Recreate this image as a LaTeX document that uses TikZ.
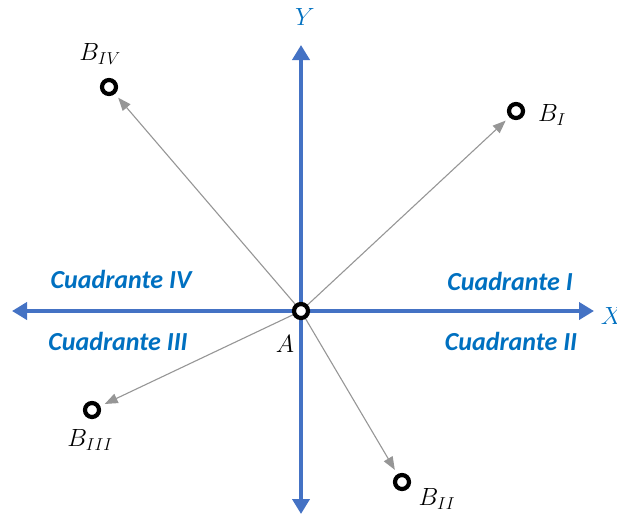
\documentclass[tikz,border=0pt]{standalone}
\usepackage{fontspec}
\newfontfamily\calibri{Carlito}
\usetikzlibrary{arrows.meta}
\definecolor{axisblue}{HTML}{4472C4}
\definecolor{textblue}{HTML}{0070C0}
\definecolor{vecgray}{HTML}{969696}
\tikzset{
  axis/.style={axisblue, line width=4pt, {Triangle[length=15pt,width=17pt]}-{Triangle[length=15pt,width=17pt]}},
  vec/.style={vecgray, line width=1.1pt, -{Triangle[length=13pt,width=10pt]}, shorten >=5pt},
  pnt/.style={circle, draw=black, fill=white, line width=4.2pt, minimum size=14pt, inner sep=0pt},
  quad/.style={textblue, font=\calibri\bfseries\itshape\fontsize{26}{30}\selectfont},
  lbl/.style={font=\fontsize{25}{29}\selectfont}
}
\begin{document}
\begin{tikzpicture}[x=1pt, y=-1pt]
  \useasboundingbox (0,0) rectangle (617,517);

  % axes
  \coordinate (XL) at (12,311);
  \coordinate (XR) at (594,311);
  \coordinate (YT) at (301,45);
  \coordinate (YB) at (301,514);
  \draw[axis] (XL) -- (XR);
  \draw[axis] (YB) -- (YT);
  \node[lbl, textblue] (xlab) at (612,316) {$X$};
  \node[lbl, textblue] (ylab) at (305,17) {$Y$};

  % quadrants
  \node[quad] (q1) at (510,281) {Cuadrante I};
  \node[quad] (q2) at (511,341) {Cuadrante II};
  \node[quad] (q3) at (118,341) {Cuadrante III};
  \node[quad] (q4) at (121,279) {Cuadrante IV};

  % points
  \node[pnt] (BI) at (516,111) {};
  \node[pnt] (BII) at (402,482) {};
  \node[pnt] (BIII) at (92,410) {};
  \node[pnt] (BIV) at (109,87) {};

  \draw[vec] (301,311) -- (BI);
  \draw[vec] (301,311) -- (BII);
  \draw[vec] (301,311) -- (BIII);
  \draw[vec] (301,311) -- (BIV);

  \node[pnt] (A) at (301,311) {};

  \node[lbl] (lA) at (285,344) {$A$};
  \node[lbl] (lBI) at (552,115) {$B_{I}$};
  \node[lbl] (lBII) at (437,499) {$B_{II}$};
  \node[lbl] (lBIII) at (90,440) {$B_{III}$};
  \node[lbl] (lBIV) at (100,54) {$B_{IV}$};
\end{tikzpicture}
\end{document}
